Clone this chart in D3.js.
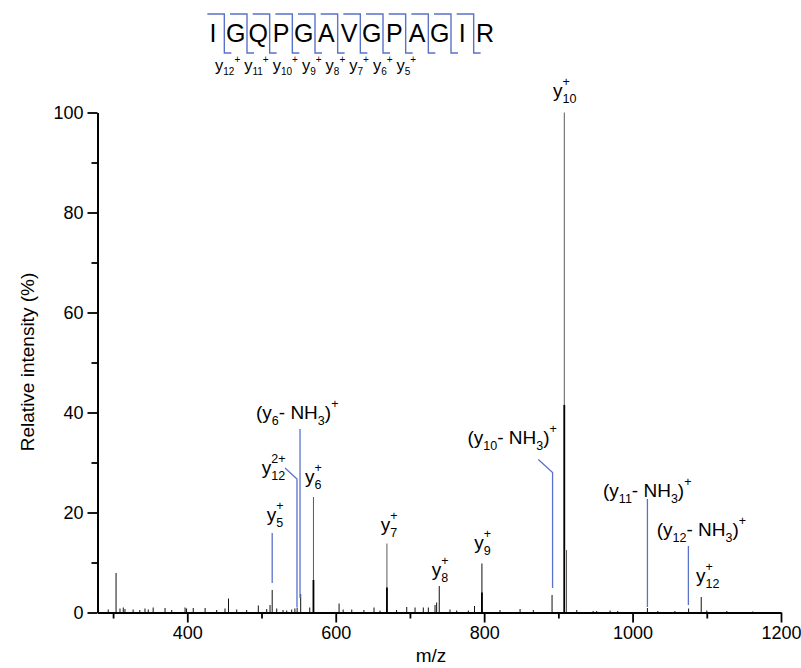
<!DOCTYPE html>
<html><head><meta charset="utf-8">
<script src="https://cdn.jsdelivr.net/npm/d3@7"></script>
<style>
body{margin:0;background:#fff}
svg{display:block}
text{font-family:"Liberation Sans",Arial,sans-serif;fill:#000}
</style></head>
<body><svg id="c" width="801" height="668"></svg>
<script>
// ---------------- data ----------------
const residues = ["I","G","Q","P","G","A","V","G","P","A","G","I","R"];
const seqIons = ["12","11","10","9","8","7","6","5"];

const xTicksMajor = [400, 600, 800, 1000, 1200];
const xTicksMinor = [300, 500, 700, 900, 1100];
const yTicksMajor = [0, 20, 40, 60, 80, 100];
const yTicksMinor = [10, 30, 50, 70, 90];

// spectrum sticks [m/z, relative intensity %]
const peaks = [
 [293.5,0.6],[304,7.9],[309.3,0.8],[313.7,1.0],[316,0.7],[327,0.6],[336,0.5],[343,0.8],
 [347.4,0.6],[354,1.0],[370,0.9],[379,0.5],[397,1.0],[399,0.8],[408,0.9],[424,0.9],
 [439.6,0.5],[450.8,0.8],[455.5,2.8],[466.6,0.6],[480,0.5],[495.7,1.4],[507,0.7],
 [511.5,1.5],[514.4,4.5],[520.5,0.8],[529,0.5],[534,0.4],[540.7,0.6],[545,0.8],
 [548,1.0],[552.8,3.7],[565,1.0],[570,23.1],[604.5,1.8],[610,0.6],[621.6,0.6],
 [638,0.5],[651.6,1.0],[659.7,0.4],[669,13.8],[682,0.5],[695.7,1.1],[706.9,1.0],
 [718,1.0],[724.8,1.0],[733.8,1.5],[736,2.0],[739.5,5.3],[754,0.6],[763,0.4],
 [778.7,0.4],[787,1.3],[797,9.8],[821.4,0.5],[848.4,0.7],[866.3,0.5],[891.5,3.5],
 [908,100],[911,12.5],[924.8,0.5],[946.8,0.3],[951.7,0.3],[969.7,0.4],[980,0.3],
 [1020,0.9],[1034,0.3],[1057,0.3],[1075.5,0.8],[1092.5,3.1],[1100,0.4],[1127,0.3],[1162,0.2]
];
// dense lower part of the strongest peaks
const cores = [[908,41.5],[570,6.5],[669,5.0],[797,4.0]];

// blue leader lines [m/z, intensity] point lists
const leaders = [
 [[514.4,5.9],[514.4,15.9]],
 [[531.7,28.9],[547.8,26.7],[547.8,1.1]],
 [[551.9,2.9],[551.9,36.7]],
 [[873,30.6],[892.2,28.0],[892.2,4.9]],
 [[1020,1.1],[1020,22.7]],
 [[1075.2,1.5],[1075.2,13.3]]
];

// ion annotation labels: tokens, anchor [m/z, intensity] of text start/baseline
const ionLabels = [
 {t:["y",{sup:"+",sub:"10"}], at:[892.9,103.1]},
 {t:["(","y",{sub:"10"},"- NH",{sub:"3"},")",{sup:"+"}], at:[777.5,33.7]},
 {t:["(","y",{sub:"6"},"- NH",{sub:"3"},")",{sup:"+"}], at:[492.6,38.7]},
 {t:["y",{sup:"2+",sub:"12"}], at:[500.3,27.7]},
 {t:["y",{sup:"+",sub:"6"}], at:[558.6,25.9]},
 {t:["y",{sup:"+",sub:"5"}], at:[507,18.3]},
 {t:["y",{sup:"+",sub:"7"}], at:[660.6,16.3]},
 {t:["y",{sup:"+",sub:"8"}], at:[729.4,7.3]},
 {t:["y",{sup:"+",sub:"9"}], at:[786.8,12.7]},
 {t:["(","y",{sub:"11"},"- NH",{sub:"3"},")",{sup:"+"}], at:[960.2,23.1]},
 {t:["(","y",{sub:"12"},"- NH",{sub:"3"},")",{sup:"+"}], at:[1032.6,15.3]},
 {t:["y",{sup:"+",sub:"12"}], at:[1085.6,6.1]}
];

// ---------------- drawing ----------------
const svg = d3.select("#c");
svg.append("rect").attr("width",801).attr("height",668).attr("fill","#fff");

const x = d3.scaleLinear().domain([279, 1200]).range([97.5, 781]);
const y = d3.scaleLinear().domain([0, 100]).range([612.5, 112.5]);

// token label renderer
function drawTokens(g, x0, y0, tokens, size, subSize, supDy, subDy) {
  let cx = x0;
  const put = (str, fs, dy) => {
    const t = g.append("text").attr("x", cx).attr("y", y0 + dy)
      .attr("font-size", fs).text(str);
    return t.node().getComputedTextLength();
  };
  tokens.forEach(tk => {
    if (typeof tk === "string") { cx += put(tk, size, 0); }
    else if (tk.sup !== undefined && tk.sub !== undefined) {
      const w1 = put(tk.sup, subSize, supDy);
      const w2 = put(tk.sub, subSize, subDy);
      cx += Math.max(w1, w2);
    } else if (tk.sup !== undefined) { cx += put(tk.sup, subSize, supDy); }
    else { cx += put(tk.sub, subSize, subDy); }
  });
  return cx;
}

// peaks
const gp = svg.append("g");
gp.selectAll("line.pk").data(peaks).join("line").attr("class","pk")
  .attr("x1", d => x(d[0])).attr("x2", d => x(d[0]))
  .attr("y1", y(0)).attr("y2", d => y(d[1]))
  .attr("stroke", d => d[1] > 10 ? "#5a5a5a" : "#111").attr("stroke-width", 1);
gp.selectAll("line.core").data(cores).join("line").attr("class","core")
  .attr("x1", d => x(d[0])).attr("x2", d => x(d[0]))
  .attr("y1", y(0)).attr("y2", d => y(d[1]))
  .attr("stroke", "#000").attr("stroke-width", 1.8);

// leaders
const line = d3.line().x(d => x(d[0])).y(d => y(d[1]));
svg.append("g").selectAll("path").data(leaders).join("path")
  .attr("d", line).attr("fill","none").attr("stroke","#5a72c8").attr("stroke-width",1.3);

// ion labels
const gl = svg.append("g");
ionLabels.forEach(l => {
  drawTokens(gl, x(l.at[0]), y(l.at[1]), l.t, 19, 12.5, -11, 6);
});

// axes
const fmt = d3.format("d");
const ax = svg.append("g").attr("transform", `translate(0,${y(0)})`);
ax.call(d3.axisBottom(x).tickValues(xTicksMajor).tickSize(10).tickSizeOuter(0).tickPadding(4).tickFormat(fmt));
const axm = svg.append("g").attr("transform", `translate(0,${y(0)})`);
axm.call(d3.axisBottom(x).tickValues(xTicksMinor).tickSize(6).tickSizeOuter(0).tickFormat(""));
axm.select(".domain").remove();
const ay = svg.append("g").attr("transform", `translate(${x(279)},0)`);
ay.call(d3.axisLeft(y).tickValues(yTicksMajor).tickSize(10).tickSizeOuter(0).tickPadding(4).tickFormat(fmt));
const aym = svg.append("g").attr("transform", `translate(${x(279)},0)`);
aym.call(d3.axisLeft(y).tickValues(yTicksMinor).tickSize(6).tickSizeOuter(0).tickFormat(""));
aym.select(".domain").remove();
svg.selectAll(".domain").attr("stroke","#000").attr("stroke-width",2);
svg.selectAll(".tick line").attr("stroke","#000").attr("stroke-width",1.8);
svg.selectAll(".tick text").attr("font-size",18).attr("font-family","'Liberation Sans',Arial,sans-serif").attr("fill","#000");

// axis titles
svg.append("text").attr("x", 431).attr("y", 662).attr("text-anchor","middle")
  .attr("font-size", 19).text("m/z");
svg.append("text").attr("transform","translate(34,362) rotate(-90)")
  .attr("text-anchor","middle").attr("font-size",19).text("Relative intensity (%)");

// sequence header
const sx = d3.scalePoint().domain(d3.range(residues.length)).range([213, 485]);
const gs = svg.append("g");
gs.selectAll("text").data(residues).join("text")
  .attr("x", (d,i) => sx(i)).attr("y", 42).attr("text-anchor","middle")
  .attr("font-size", 25).text(d => d);
const gaps = d3.range(residues.length - 1).map(i => (sx(i) + sx(i+1)) / 2);
gs.selectAll("path").data(gaps).join("path")
  .attr("d", g => `M${g-17},14H${g}V53H${g+7}`)
  .attr("fill","none").attr("stroke","#5a72c8").attr("stroke-width",1.4);
let cx = 215;
seqIons.forEach(n => {
  cx = drawTokens(gs, cx, 71, ["y", {sub:n}, {sup:"+"}], 16.5, 10, -8, 4);
  cx += 4;
});
</script></body></html>
